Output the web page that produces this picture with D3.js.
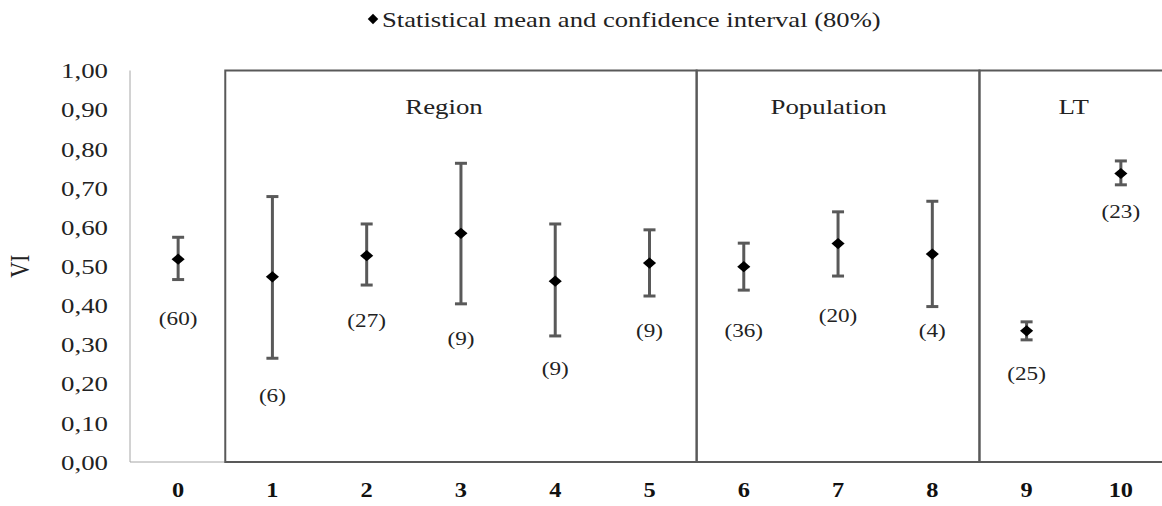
<!DOCTYPE html>
<html><head><meta charset="utf-8">
<script src="https://cdn.jsdelivr.net/npm/d3@7"></script>
<style>body{margin:0;background:#fff}svg{display:block}</style>
</head><body>
<script>
const categories = ["0","1","2","3","4","5","6","7","8","9","10"];
const means = [0.518,0.473,0.527,0.584,0.462,0.508,0.499,0.558,0.531,0.335,0.737];
const upper = [0.574,0.678,0.608,0.763,0.608,0.593,0.559,0.639,0.666,0.358,0.769];
const lower = [0.466,0.265,0.452,0.404,0.322,0.424,0.439,0.475,0.397,0.312,0.708];
const counts = ["(60)","(6)","(27)","(9)","(9)","(9)","(36)","(20)","(4)","(25)","(23)"];
const countAt = [0.367,0.171,0.363,0.317,0.240,0.337,0.337,0.375,0.337,0.227,0.639];
const yTicks = [0,0.1,0.2,0.3,0.4,0.5,0.6,0.7,0.8,0.9,1.0];
const groupNames = ["Region","Population","LT"];
const groupFrom = ["1","6","9"];
const groupTo = ["5","8","10"];
const groupTitleAt = [2.82, 6.9, 9.5]; // category index where each title is centred
const legendText = "Statistical mean and confidence interval (80%)";
const yTitle = "VI";

const W=1162,H=506;
const FONT="'Liberation Serif','Times New Roman',serif";
const svg=d3.select("body").append("svg").attr("width",W).attr("height",H).attr("font-family",FONT);
const x=d3.scaleBand().domain(categories).range([131,1168]).padding(0);
const xc=c=>x(c)+x.bandwidth()/2;
const xi=t=>x(categories[0])+x.bandwidth()*(t+0.5);
const y=d3.scaleLinear().domain([0,1]).range([462,70.5]);
const fmt=d3.format(".2f");
const grey="#595959";
const SX=1.22;

function place(sel, ax, ay){
  return sel.attr("transform",`translate(${ax},${ay}) scale(${SX},1)`);
}

// axes
svg.append("line").attr("x1",130).attr("x2",130).attr("y1",y(1)).attr("y2",y(0)).attr("stroke","#a6a6a6").attr("stroke-width",1);
svg.append("line").attr("x1",130).attr("x2",x("1")).attr("y1",y(0)).attr("y2",y(0)).attr("stroke","#a6a6a6").attr("stroke-width",1);
svg.append("g").selectAll("text").data(yTicks).join("text")
 .each(function(d){place(d3.select(this),108,y(d));})
 .attr("dy","0.35em").attr("text-anchor","end")
 .attr("font-size",22).attr("fill","#222").text(d=>fmt(d).replace(".",","));
svg.append("g").selectAll("text").data(categories).join("text")
 .each(function(d){place(d3.select(this),xc(d),490);})
 .attr("dy","0.35em").attr("text-anchor","middle")
 .attr("font-size",20).attr("font-weight","bold").attr("fill","#111").text(d=>d);
svg.append("text").attr("transform",`translate(20,${y(0.5)}) rotate(-90) scale(1,${SX})`).attr("text-anchor","middle").attr("dy","0.35em")
 .attr("font-size",22).attr("fill","#222").text(yTitle);

// group boxes
const bx=svg.append("g");
groupNames.forEach((name,i)=>{
  const x0=x(groupFrom[i]), x1=x(groupTo[i])+x.bandwidth();
  bx.append("rect").attr("x",x0).attr("y",y(1)).attr("width",x1-x0).attr("height",y(0)-y(1))
    .attr("fill","none").attr("stroke",grey).attr("stroke-width",2);
  place(bx.append("text"),xi(groupTitleAt[i]),106)
    .attr("dy","0.35em").attr("text-anchor","middle").attr("font-size",22).attr("fill","#222").text(name);
});

// error bars
const eb=svg.append("g").attr("stroke",grey).attr("stroke-width",3);
categories.forEach((c,i)=>{
  const cx=xc(c);
  eb.append("line").attr("x1",cx).attr("x2",cx).attr("y1",y(upper[i])).attr("y2",y(lower[i]));
  eb.append("line").attr("x1",cx-6).attr("x2",cx+6).attr("y1",y(upper[i])).attr("y2",y(upper[i]));
  eb.append("line").attr("x1",cx-6).attr("x2",cx+6).attr("y1",y(lower[i])).attr("y2",y(lower[i]));
});
const sym=d3.symbol().type(d3.symbolDiamond2).size(110);
svg.append("g").selectAll("path").data(categories).join("path")
 .attr("transform",(d,i)=>`translate(${xc(d)},${y(means[i])}) scale(1,0.85)`)
 .attr("d",sym).attr("fill","#000");
svg.append("g").selectAll("text").data(categories).join("text")
 .each(function(d,i){place(d3.select(this),xc(d),y(countAt[i]));})
 .attr("dy","0.35em").attr("text-anchor","middle")
 .attr("font-size",19).attr("fill","#222").text((d,i)=>counts[i]);

// legend
svg.append("path").attr("transform","translate(373,19)").attr("d",d3.symbol().type(d3.symbolDiamond2).size(70)).attr("fill","#000");
svg.append("text").attr("transform","translate(382,19) scale(1.21,1)").attr("dy","0.35em").attr("font-size",22).attr("fill","#222").text(legendText);
</script>
</body></html>
